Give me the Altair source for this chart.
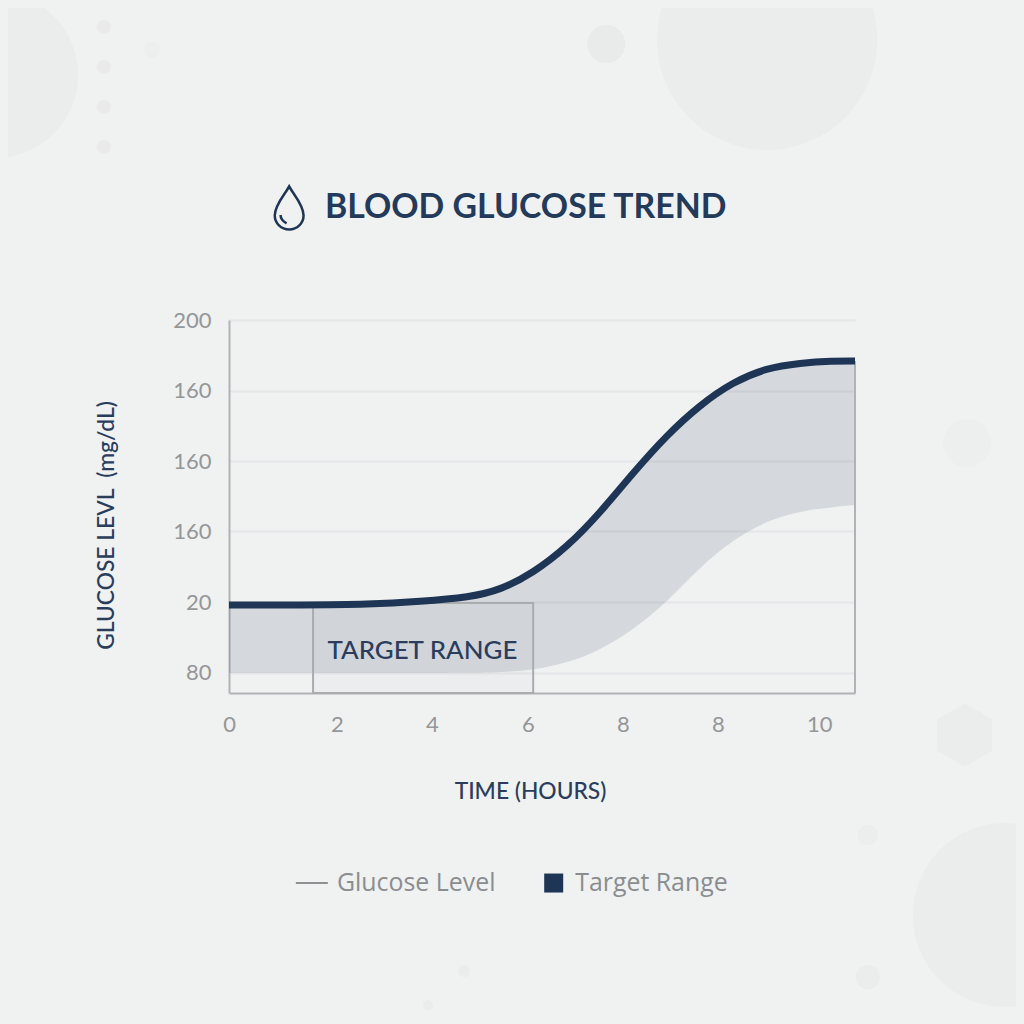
import altair as alt
import pandas as pd

BG = "#f0f1f1"
NAVY = "#1f3555"

# x runs in axis units, y in axis units; printed labels are those of the picture
x_ticks = [0, 2.26, 4.25, 6.26, 8.25, 10.24, 12.36]
x_labels = ["0", "2", "4", "6", "8", "8", "10"]
y_ticks = [200, 176, 152, 128.2, 104.1, 80]
y_labels = ["200", "160", "160", "160", "20", "80"]

hours = [0, 1.49, 2.95, 4.0, 5.05, 5.68, 6.37, 7.08, 7.77, 8.46, 9.17, 9.86, 10.55, 11.26, 11.96, 12.65, 13.11]
glucose = [103.1, 103.1, 103.3, 104.3, 105.8, 108.2, 114, 122.8, 134.4, 148, 160.9, 171.1, 178.9, 183.7, 185.4, 186.1, 186.1]
lower = [80, 80, 80, 80, 80, 80.3, 81, 83.4, 87.8, 94.6, 104.1, 116, 125.2, 131.8, 135.1, 136.4, 137.1]

# decorative background discs
disc_x = [-4.9, 11.27, 7.9, 16.25, 15.46, -2.62, -2.62, -2.62, -2.62, -1.61, 13.38, 13.38, 4.92, 4.17]
disc_y = [283.3, 295.2, 293.8, -2.3, 158.2, 299.6, 286, 272.4, 258.8, 291.8, 24.9, -23.4, -21.3, -32.9]
disc_s = [27556, 48400, 1444, 33856, 2304, 196, 196, 196, 196, 256, 400, 576, 144, 100]
disc_o = [0.7, 0.7, 0.9, 0.7, 0.35, 0.8, 0.8, 0.8, 0.8, 0.35, 0.5, 0.7, 0.7, 0.6]

DOMX = [0, 13.11]
DOMY = [73.2, 200]
sx = alt.Scale(domain=DOMX, nice=False, zero=False)
sy = alt.Scale(domain=DOMY, nice=False, zero=False)

x_axis = alt.Axis(
    values=x_ticks, labelExpr=f"{x_labels}[indexof({x_ticks}, datum.value)]",
    title="TIME (HOURS)", titleX=301, titleY=87, titleFont="Lato", titleFontSize=22.8,
    titleFontWeight=500, titleColor="#2a3d5c",
    labelFont="Lato", labelFontSize=22, labelColor="#949698", labelPadding=21, labelOverlap=False,
    labelFlush=False, ticks=False, grid=False,
    domainColor="#b0b3b6", domainWidth=2,
)
y_axis = alt.Axis(
    values=y_ticks, labelExpr=f"{y_labels}[indexof({y_ticks}, datum.value)]",
    title="GLUCOSE LEVL\u00a0\u00a0(mg/dL)", titleX=-111, titleY=205, titleFont="Lato", titleFontSize=22.8,
    titleFontWeight=500, titleColor="#2a3d5c",
    labelFont="Lato", labelFontSize=22, labelColor="#949698", labelPadding=18, labelOverlap=False,
    ticks=False, grid=True, gridColor="#e4e6e7", gridWidth=2,
    domainColor="#b0b3b6", domainWidth=2,
)


def X(f="x"):
    return alt.X(f"{f}:Q", scale=sx, axis=x_axis)


def Y(f="y"):
    return alt.Y(f"{f}:Q", scale=sy, axis=y_axis)


curve = pd.DataFrame({"x": hours, "y": glucose, "low": lower})

discs = alt.Chart(pd.DataFrame({"x": disc_x, "y": disc_y, "s": disc_s, "o": disc_o})).mark_point(
    filled=True, shape="circle", color="#e8e9e9", strokeWidth=0
).encode(
    x=X(), y=Y(),
    size=alt.Size("s:Q", scale=None, legend=None),
    opacity=alt.Opacity("o:Q", scale=None, legend=None),
)

hexagon = alt.Chart(pd.DataFrame({"x": [15.41], "y": [58.9]})).mark_point(
    filled=True, color="#e8e9e9", opacity=0.6, size=3969, strokeWidth=0,
    shape="M0,-1 L0.87,-0.5 L0.87,0.5 L0,1 L-0.87,0.5 L-0.87,-0.5 Z",
).encode(x=X(), y=Y())

area = alt.Chart(curve).mark_area(
    color=NAVY, opacity=0.13, interpolate="basis"
).encode(x=X(), y=Y(), y2="low:Q")

box = alt.Chart(pd.DataFrame({"x": [1.76], "x2": [6.37], "y": [103.8], "y2": [73.2]})).mark_rect(
    fill=NAVY, fillOpacity=0.02, stroke="#a9adb0", strokeWidth=2
).encode(x=X(), x2="x2:Q", y=Y(), y2="y2:Q")

right_edge = alt.Chart(pd.DataFrame({"x": [13.11], "y": [186.1], "y2": [73.2]})).mark_rule(
    color="#b0b3b6", strokeWidth=2
).encode(x=X(), y=Y(), y2="y2:Q")

line = alt.Chart(curve).mark_line(
    color=NAVY, strokeWidth=7, interpolate="basis", strokeCap="butt"
).encode(x=X(), y=Y())

range_label = alt.Chart(pd.DataFrame({"x": [4.05], "y": [87.5], "t": ["TARGET RANGE"]})).mark_text(
    font="Lato", fontSize=25.9, color="#2a3d5c", fontWeight=500
).encode(x=X(), y=Y(), text="t:N")

drop = alt.Chart(pd.DataFrame({"x": [1.26], "y": [238.1]})).mark_point(
    filled=False, color=NAVY, opacity=1, strokeWidth=2.5, size=1849,
    shape="M0,-1 C0.15,-0.7 0.67,-0.15 0.67,0.35 A0.67,0.65 0 1 1 -0.67,0.35 "
          "C-0.67,-0.15 -0.15,-0.7 0,-1 Z M-0.4,0.33 C-0.4,0.5 -0.3,0.62 -0.12,0.72",
).encode(x=X(), y=Y())

legend_rule = alt.Chart(pd.DataFrame({"x": [1.40], "x2": [2.07], "y": [8.6]})).mark_rule(
    color="#8d9194", strokeWidth=2
).encode(x=X(), x2="x2:Q", y=Y())

legend_square = alt.Chart(pd.DataFrame({"x": [6.8], "y": [8.6]})).mark_point(
    filled=True, shape="square", color=NAVY, opacity=1, size=361, strokeWidth=0
).encode(x=X(), y=Y())

legend_text = alt.Chart(pd.DataFrame({"x": [2.26, 7.25], "y": [8.3, 8.3], "t": ["Glucose Level", "Target Range"]})).mark_text(
    font="Open Sans", fontSize=24.9, color="#8a8d90", align="left", baseline="middle"
).encode(x=X(), y=Y(), text="t:N")

chart = alt.layer(
    discs, hexagon, area, box, right_edge, line, range_label, drop, legend_rule, legend_square, legend_text
).properties(
    width=626, height=373,
    padding={"left": 221, "top": 312, "right": 161, "bottom": 323},
    autosize=alt.AutoSizeParams(type="none"),
    background=BG,
    title=alt.TitleParams(
        "BLOOD GLUCOSE TREND", anchor="start", frame="group", dx=96, dy=295, offset=0,
        font="Lato", fontSize=33.8, fontWeight="bold", color="#243a5a",
    ),
).configure_view(stroke=None)

chart.save("out.html", embed_options={
    "renderer": "svg", "actions": False,
    "defaultStyle": "body{background:#f0f1f1;overflow:hidden}",
})
